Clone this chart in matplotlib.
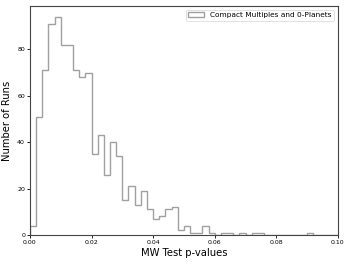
import matplotlib
matplotlib.use("Agg")
import matplotlib.pyplot as plt
import numpy as np

# histogram of MW test p-values, 50 bins between 0 and 0.1
bin_edges = np.linspace(0, 0.1, 51)
counts = [4, 51, 71, 91, 94, 82, 82, 71, 68, 70,
          35, 43, 26, 40, 34, 15, 21, 13, 19, 11,
          7, 8, 11, 12, 2, 4, 1, 1, 4, 1,
          0, 1, 1, 0, 1, 0, 1, 1, 0, 0,
          0, 0, 0, 0, 0, 1, 0, 0, 0, 0]
label = "Compact Multiples and 0-Planets"

centers = (bin_edges[:-1] + bin_edges[1:]) / 2

fig = plt.figure(figsize=(3.52, 2.64), dpi=100)
ax = fig.add_axes([0.085, 0.11, 0.875, 0.867])

ax.hist(centers, bins=bin_edges, weights=counts, histtype="step",
        color="#a0a0a0", linewidth=1.0, label=label)

ax.set_xlim(0, 0.1)
ax.set_ylim(0, max(counts) * 1.05)
ax.set_yticks([0, 20, 40, 60, 80])
ax.set_xticks([0, 0.02, 0.04, 0.06, 0.08, 0.1])
ax.set_xticklabels(["0.00", "0.02", "0.04", "0.06", "0.08", "0.10"])
ax.tick_params(labelsize=4.5, length=2, width=0.6, pad=1.5)
for s in ax.spines.values():
    s.set_color("#444444")
    s.set_linewidth(0.8)

ax.set_xlabel("MW Test p-values", fontsize=7.2, labelpad=2)
ax.set_ylabel("Number of Runs", fontsize=7.2, labelpad=4)

leg = ax.legend(loc="upper right", fontsize=5.3, frameon=True,
                handlelength=2.2, handleheight=0.6, borderpad=0.35,
                borderaxespad=0.5)
leg.get_frame().set_linewidth(0.5)

fig.savefig("out.png", dpi=100)
